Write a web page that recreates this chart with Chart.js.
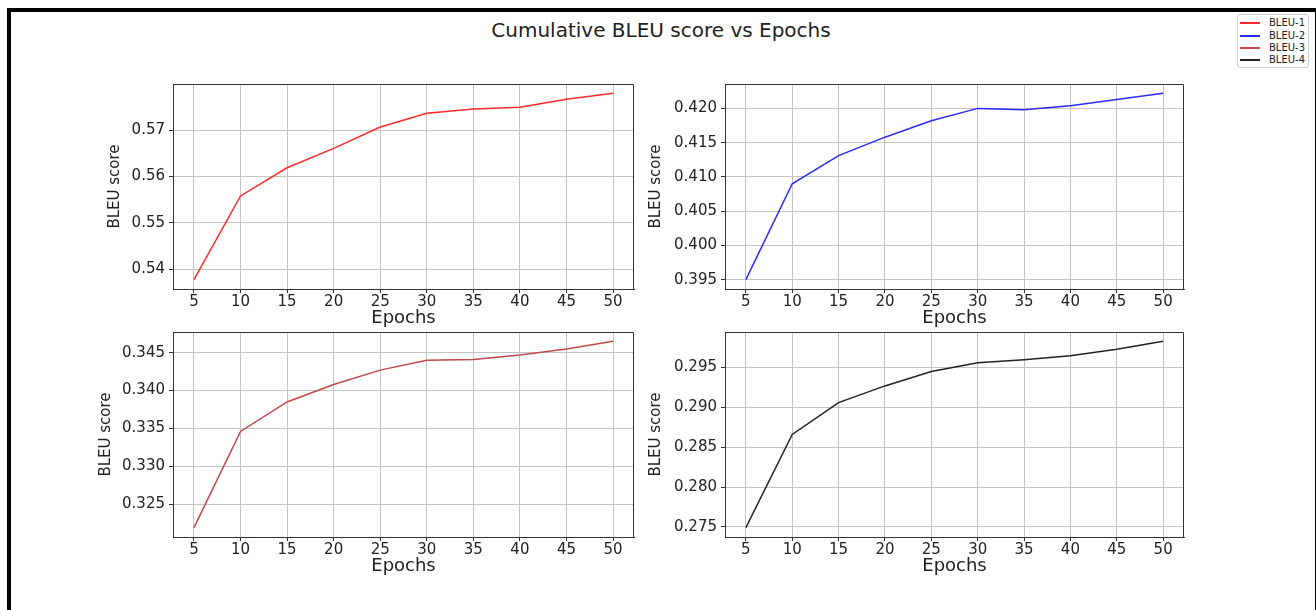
<!DOCTYPE html>
<html>
<head>
<meta charset="utf-8">
<script src="https://cdn.jsdelivr.net/npm/chart.js@4.4.1/dist/chart.umd.min.js"></script>
<style>
  body { margin: 0; background: #fff; width: 1316px; height: 610px; overflow: hidden; position: relative; font-family: "DejaVu Sans", sans-serif; }
  #frame { position: absolute; left: 7px; top: 8px; width: 1312px; height: 700px; border: 4px solid #000; box-sizing: border-box; }
  #title { position: absolute; left: 661px; top: 20px; transform: translateX(-50%); font-size: 20px; line-height: 20px; color: #222; white-space: nowrap; }
  #legend { position: absolute; left: 1237px; top: 14px; width: 72px; height: 54px; box-sizing: border-box; border: 1px solid #d0d0d0; border-radius: 3px; background: #fff; font-size: 10px; color: #222; }
  .item { position: absolute; left: 0; height: 12px; line-height: 12px; white-space: nowrap; }
  .item span.line { position: absolute; left: 2px; top: 5px; width: 20px; height: 2px; }
  .item span.txt { position: absolute; left: 31px; top: 0; }
  canvas { position: absolute; }
</style>
</head>
<body>
<div id="frame"></div>
<div id="title">Cumulative BLEU score vs Epochs</div>
<div id="legend"></div>
<script>
// data
const epochs = [5, 10, 15, 20, 25, 30, 35, 40, 45, 50];
const bleu1 = [0.5377, 0.5558, 0.5619, 0.5661, 0.5707, 0.5737, 0.5746, 0.5750, 0.5767, 0.5780];
const bleu2 = [0.3950, 0.4090, 0.4131, 0.4158, 0.4182, 0.4200, 0.4198, 0.4204, 0.4213, 0.4222];
const bleu3 = [0.3219, 0.3346, 0.3385, 0.3408, 0.3427, 0.3440, 0.3441, 0.3447, 0.3455, 0.3465];
const bleu4 = [0.2749, 0.2866, 0.2906, 0.2927, 0.2945, 0.2956, 0.2960, 0.2965, 0.2973, 0.2983];

const seriesNames = ['BLEU-1', 'BLEU-2', 'BLEU-3', 'BLEU-4'];
const xLabels = ['5', '10', '15', '20', '25', '30', '35', '40', '45', '50'];
const yLabels1 = ['0.54', '0.55', '0.56', '0.57'];
const yLabels2 = ['0.395', '0.400', '0.405', '0.410', '0.415', '0.420'];
const yLabels3 = ['0.325', '0.330', '0.335', '0.340', '0.345'];
const yLabels4 = ['0.275', '0.280', '0.285', '0.290', '0.295'];

const colors = ['#ff2a2a', '#2a2aff', '#c04848', '#222222'];
const FONT = 'DejaVu Sans';

// plot area of each panel on the page
const panels = [
  { values: bleu1, labels: yLabels1, color: colors[0], left: 173, top: 84, w: 461, h: 205, titlePad: 23.5 },
  { values: bleu2, labels: yLabels2, color: colors[1], left: 725, top: 84, w: 459, h: 205, titlePad: 12 },
  { values: bleu3, labels: yLabels3, color: colors[2], left: 173, top: 332, w: 461, h: 205, titlePad: 14 },
  { values: bleu4, labels: yLabels4, color: colors[3], left: 725, top: 332, w: 459, h: 205, titlePad: 12 }
];

// top and right spines
const spines = {
  id: 'spines',
  afterDraw(chart) {
    const { ctx, chartArea: a } = chart;
    ctx.save();
    ctx.strokeStyle = '#333';
    ctx.lineWidth = 1;
    ctx.beginPath();
    ctx.moveTo(Math.round(a.left), Math.round(a.top) + 0.5);
    ctx.lineTo(Math.round(a.right) - 0.5, Math.round(a.top) + 0.5);
    ctx.lineTo(Math.round(a.right) - 0.5, Math.round(a.bottom));
    ctx.stroke();
    ctx.restore();
  }
};

function makePanel(p) {
  const YW = 90, PT = 20, PR = 20, XH = 40;
  const canvas = document.createElement('canvas');
  canvas.width = YW + p.w + PR;
  canvas.height = PT + p.h + XH;
  canvas.style.left = (p.left - YW) + 'px';
  canvas.style.top = (p.top - PT) + 'px';
  document.body.appendChild(canvas);

  // matplotlib-style 5% margins
  const lo = Math.min(...p.values), hi = Math.max(...p.values);
  const ym = (hi - lo) * 0.05;
  const xm = (epochs[epochs.length - 1] - epochs[0]) * 0.05;

  new Chart(canvas, {
    type: 'line',
    data: {
      datasets: [{
        data: epochs.map((e, i) => ({ x: e, y: p.values[i] })),
        borderColor: p.color,
        borderWidth: 1.5,
        pointRadius: 0,
        tension: 0,
        fill: false
      }]
    },
    options: {
      responsive: false,
      animation: false,
      events: [],
      layout: { padding: { top: PT, right: PR, left: 0, bottom: 0 } },
      plugins: { legend: { display: false }, tooltip: { enabled: false } },
      scales: {
        x: {
          type: 'linear',
          min: epochs[0] - xm,
          max: epochs[epochs.length - 1] + xm,
          afterBuildTicks: s => { s.ticks = xLabels.map(t => ({ value: Number(t) })); },
          afterFit: s => { s.height = XH; },
          ticks: { color: '#222', font: { family: FONT, size: 15 }, padding: 0, autoSkip: false, maxRotation: 0, callback: (v, i) => xLabels[i] },
          grid: { color: '#c4c4c4', lineWidth: 1, tickColor: '#333', tickLength: 4 },
          border: { color: '#333', width: 1 },
          title: { display: true, text: 'Epochs', color: '#222', font: { family: FONT, size: 18 }, padding: { top: 0, bottom: 0 } }
        },
        y: {
          min: lo - ym,
          max: hi + ym,
          afterBuildTicks: s => { s.ticks = p.labels.map(t => ({ value: Number(t) })); },
          afterFit: s => { s.width = YW; },
          ticks: { color: '#222', font: { family: FONT, size: 15 }, padding: 4, autoSkip: false, callback: (v, i) => p.labels[i] },
          grid: { color: '#c4c4c4', lineWidth: 1, tickColor: '#333', tickLength: 4 },
          border: { color: '#333', width: 1 },
          title: { display: true, text: 'BLEU score', color: '#222', font: { family: FONT, size: 15 }, padding: { top: p.titlePad, bottom: 0 } }
        }
      }
    },
    plugins: [spines]
  });
}

panels.forEach(makePanel);

// legend
const legend = document.getElementById('legend');
const legendRows = [8, 20.5, 32.5, 45];
seriesNames.forEach((name, i) => {
  const row = document.createElement('div');
  row.className = 'item';
  row.style.top = (legendRows[i] - 6) + 'px';
  row.innerHTML = `<span class="line" style="background:${colors[i]}"></span><span class="txt">${name}</span>`;
  legend.appendChild(row);
});
</script>
</body>
</html>
